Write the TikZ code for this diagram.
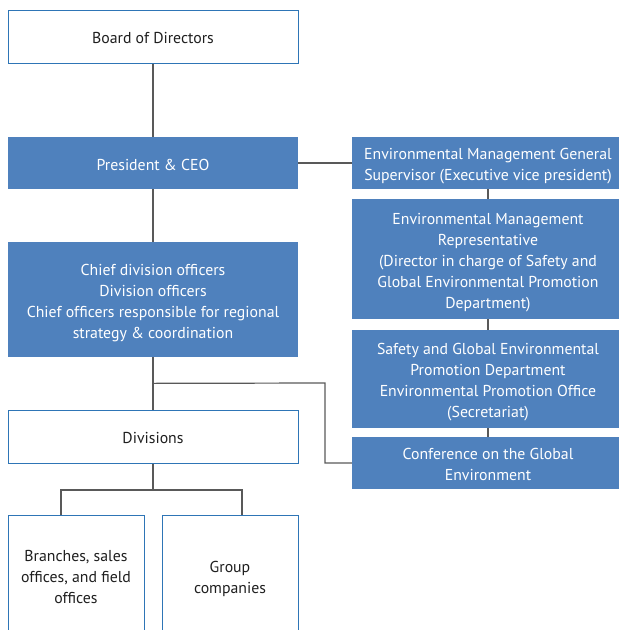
\documentclass[tikz,border=0pt]{standalone}
\usepackage{fontspec}
\setmainfont{PT Sans}
\usetikzlibrary{calc}
\definecolor{boxblue}{HTML}{4F81BD}
\definecolor{edgeblue}{HTML}{2E75B6}
\definecolor{linegray}{HTML}{595959}
\definecolor{textdark}{HTML}{1F1F1F}
\newcommand{\bxt}[1]{\raisebox{-3pt}[\height][\depth]{\begin{tabular}{@{}c@{}}#1\end{tabular}}}
\begin{document}
\begin{tikzpicture}[x=1pt,y=-1pt,
  every node/.style={inner sep=0pt,font=\fontsize{15.8}{21}\selectfont},
  whitebox/.style={draw=edgeblue,line width=1pt,fill=white,text=textdark},
  bluebox/.style={fill=boxblue,text=white},
  conn/.style={draw=linegray,line width=1.2pt}]
\useasboundingbox (0,0) rectangle (619,630);
\node[whitebox,minimum width=290pt,minimum height=53pt] (board) at (153,36.5) {\bxt{Board of Directors}};
\node[bluebox,minimum width=290pt,minimum height=52pt] (pres) at (153,163) {\bxt{President \& CEO}};
\node[bluebox,minimum width=290pt,minimum height=115pt] (chief) at (153,299.5) {\bxt{Chief division officers\\Division officers\\Chief officers responsible for regional\\strategy \& coordination}};
\node[whitebox,minimum width=290pt,minimum height=53pt] (div) at (153,436.5) {\bxt{Divisions}};
\node[whitebox,minimum width=136pt,minimum height=121pt] (branch) at (76,575.5) {\bxt{Branches, sales\\offices, and field\\offices}};
\node[whitebox,minimum width=136pt,minimum height=121pt] (group) at (230,575.5) {\bxt{Group\\companies}};
\node[bluebox,minimum width=272pt,minimum height=52pt] (egs) at (488,163) {\bxt{Environmental Management General\\Supervisor (Executive vice president)}};
\node[bluebox,minimum width=272pt,minimum height=120pt] (emr) at (488,259) {\bxt{Environmental Management\\Representative\\(Director in charge of Safety and\\Global Environmental Promotion\\Department)}};
\node[bluebox,minimum width=272pt,minimum height=98pt] (saf) at (488,379) {\bxt{Safety and Global Environmental\\Promotion Department\\Environmental Promotion Office\\(Secretariat)}};
\node[bluebox,minimum width=272pt,minimum height=52pt] (conf) at (488,463) {\bxt{Conference on the Global\\Environment}};
\draw[conn] (board.south) -- (pres.north);
\draw[conn] (pres.south) -- (chief.north);
\draw[conn] (chief.south) -- (div.north);
\draw[conn] (pres.east) -- (egs.west);
\draw[conn] (egs.south) -- (emr.north);
\draw[conn] (emr.south) -- (saf.north);
\draw[conn] (saf.south) -- (conf.north);
\coordinate (j1) at ($(chief.south)!0.5!(div.north)$);
\coordinate (k) at (325,383);
\draw[conn] (j1) -- (k) |- (conf.west);
\coordinate (b1) at (61,490);
\coordinate (b2) at (242,490);
\draw[conn] (div.south) -- (div.south |- b1);
\draw[conn] (b1 |- branch.north) -- (b1) -- (b2) -- (b2 |- group.north);
\end{tikzpicture}
\end{document}
